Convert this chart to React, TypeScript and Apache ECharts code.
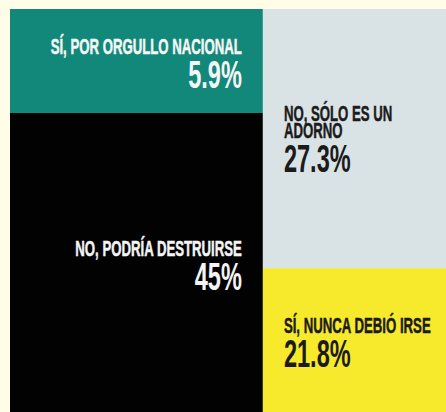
import React, { useEffect, useRef } from "react";
import * as echarts from "echarts";

const categories = [
  "SÍ, POR ORGULLO NACIONAL",
  "NO, PODRÍA DESTRUIRSE",
  "NO, SÓLO ES UN\nADORNO",
  "SÍ, NUNCA DEBIÓ IRSE",
];
const values = [5.9, 45, 27.3, 21.8];
const columnOf = [0, 0, 1, 1];

const blockColors = ["#12887A", "#020202", "#D9E2E5", "#F7EA2C"];
const textColors = ["#F4F7F5", "#F4F4F4", "#1B1B1B", "#1B1B1B"];

// layout of the stylised mosaic (percent of the plotting area)
const COL_SPLIT = 58.0;
const ROW_SPLIT = [25.8, 64.3];

export default function App() {
  const ref = useRef<HTMLDivElement>(null);
  useEffect(() => {
    if (!ref.current) return;
    const chart = echarts.init(ref.current, undefined, { renderer: "svg" });

    const data = values.map((v, i) => {
      const col = columnOf[i];
      const firstInCol = columnOf.indexOf(col) === i;
      const x0 = col === 0 ? 0 : COL_SPLIT;
      const x1 = col === 0 ? COL_SPLIT : 100;
      const y0 = firstInCol ? 0 : ROW_SPLIT[col];
      const y1 = firstInCol ? ROW_SPLIT[col] : 100;
      return [x0, x1, y0, y1, i, v];
    });

    const option: any = {
      animation: false,
      backgroundColor: "#FFFCE7",
      grid: { left: 10, top: 9, right: 0, bottom: 0 },
      xAxis: { type: "value", min: 0, max: 100, show: false },
      yAxis: { type: "value", min: 0, max: 100, inverse: true, show: false },
      series: [
        {
          type: "custom",
          silent: true,
          clip: false,
          encode: { x: [0, 1], y: [2, 3] },
          data,
          renderItem: (params: any, api: any) => {
            const x0 = api.value(0);
            const x1 = api.value(1);
            const y0 = api.value(2);
            const y1 = api.value(3);
            const i = api.value(4);
            const v = api.value(5);
            const p0 = api.coord([x0, y0]);
            const p1 = api.coord([x1, y1]);
            const rx = p0[0];
            const ry = p0[1];
            const rw = p1[0] - p0[0];
            const rh = p1[1] - p0[1];
            const col = columnOf[i];
            const cy = ry + rh / 2;
            const lines = categories[i].split("\n");
            const n = lines.length;
            const percentY = cy + 14 + (n - 1) * 6.5;
            const tx = col === 0 ? rx + rw - 21 : rx + 21;
            const align = col === 0 ? "right" : "left";
            const fill = textColors[i];
            const children: any[] = [
              {
                type: "rect",
                shape: { x: rx, y: ry, width: rw, height: rh },
                style: { fill: blockColors[i] },
              },
            ];
            lines.forEach((ln, k) => {
              children.push({
                type: "text",
                x: tx,
                y: percentY - 28 - (n - 1 - k) * 17,
                scaleX: 0.6,
                style: {
                  text: ln,
                  align,
                  verticalAlign: "middle",
                  fill,
                  stroke: fill,
                  lineWidth: 0.5,
                  fontFamily: '"Liberation Sans", Arial, sans-serif',
                  fontWeight: "bold",
                  fontSize: 22,
                },
              });
            });
            children.push({
              type: "text",
              x: tx,
              y: percentY,
              scaleX: 0.62,
              style: {
                text: String(v) + "%",
                align,
                verticalAlign: "middle",
                fill,
                fontFamily: '"Liberation Sans", Arial, sans-serif',
                fontWeight: "bold",
                fontSize: 38,
              },
            });
            return { type: "group", children };
          },
        },
      ],
    };
    chart.setOption(option);
    return () => chart.dispose();
  }, []);
  return (
    <div
      ref={ref}
      style={{ position: "absolute", left: 0, top: 0, width: 446, height: 412 }}
    />
  );
}
